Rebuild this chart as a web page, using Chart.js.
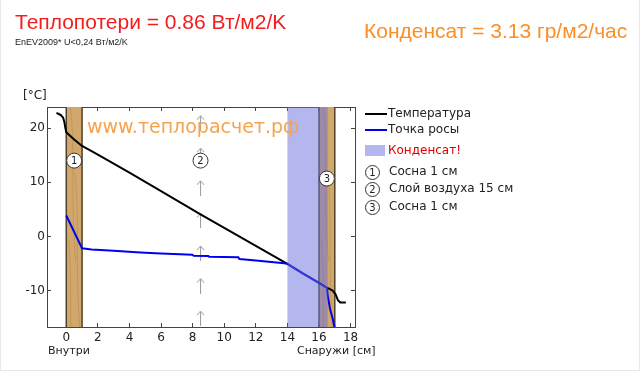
<!DOCTYPE html>
<html>
<head>
<meta charset="utf-8">
<script src="https://cdn.jsdelivr.net/npm/chart.js@4.4.1/dist/chart.umd.min.js"></script>
<style>
  body { margin: 0; background: #fff; }
  #wrap { position: relative; width: 640px; height: 371px; overflow: hidden; box-sizing: border-box;
          border-left: 1px solid #e8e8e8; border-bottom: 1px solid #e8e8e8; border-right: 1px solid #e8e8e8;
          font-family: "DejaVu Sans", sans-serif; color: #222; }
  #wrap canvas { position: absolute; left: 0; top: 0; }
  .t { position: absolute; white-space: nowrap; line-height: 1; }
  .big { font-family: "Liberation Sans", Arial, sans-serif; font-size: 21px; }
  .leg { font-size: 12px; left: 387px; }
  .sw { position: absolute; left: 364px; }
  .num { position: absolute; left: 364px; width: 13px; height: 13px; border: 1px solid #333; border-radius: 50%;
         font-size: 10px; line-height: 13px; text-align: center; background: #fff; }
</style>
</head>
<body>
<div id="wrap">
  <canvas id="chart" width="640" height="371"></canvas>

  <div class="t big" style="left:14px;top:11px;color:#f21d1d">Теплопотери = 0.86 Вт/м2/K</div>
  <div class="t" style="left:14px;top:38px;font-family:'Liberation Sans',Arial,sans-serif;font-size:9px;color:#222">EnEV2009* U&lt;0,24 Вт/м2/K</div>
  <div class="t big" style="left:363px;top:20px;color:#fb8f26">Конденсат = 3.13 гр/м2/час</div>

  <div class="t" style="left:86px;top:117px;font-size:19px;color:#f7a24c">www.теплорасчет.рф</div>

  <div class="t" style="left:22px;top:89px;font-size:12px">[°C]</div>
  <div class="t" style="left:47px;top:345px;font-size:11px">Внутри</div>
  <div class="t" style="left:296px;top:345px;font-size:11px">Снаружи [см]</div>

  <div class="sw" style="top:113px;width:22px;height:2px;background:#000"></div>
  <div class="t leg" style="top:107px">Температура</div>
  <div class="sw" style="top:129px;width:22px;height:2px;background:#0000f0"></div>
  <div class="t leg" style="top:123px">Точка росы</div>
  <div class="sw" style="top:145px;width:20px;height:11px;background:#b4b7ee"></div>
  <div class="t leg" style="top:144px;color:#e00000">Конденсат!</div>

  <div class="num" style="top:165px">1</div>
  <div class="t leg" style="top:165px;left:388px">Сосна 1 см</div>
  <div class="num" style="top:182px">2</div>
  <div class="t leg" style="top:182px;left:388px">Слой воздуха 15 см</div>
  <div class="num" style="top:200px">3</div>
  <div class="t leg" style="top:200px;left:388px">Сосна 1 см</div>
</div>

<script>
// temperature across the wall, cm / °C
const tempX = [-0.62, -0.35, -0.2, -0.12, -0.05, 0, 0.5, 1, 2, 4, 6, 8.5, 10, 12, 14, 15, 16, 16.5, 16.85, 17.05, 17.2, 17.35, 17.7];
const tempY = [22.8, 22.4, 21.9, 21.1, 19.9, 19.2, 17.9, 16.7, 15.1, 11.8, 8.4, 4.1, 1.6, -1.7, -5.0, -6.8, -8.5, -9.4, -9.9, -10.6, -11.7, -12.1, -12.1];

// dew point
const dewX = [0, 1, 1.6, 3, 4.7, 6, 8, 8.05, 9, 9.05, 10.9, 10.95, 12, 13.8, 14, 15, 16, 16.5, 16.55, 16.7, 16.87, 16.97, 17.05];
const dewY = [3.9, -2.15, -2.35, -2.6, -2.9, -3.1, -3.35, -3.5, -3.55, -3.7, -3.8, -4.1, -4.4, -4.9, -5.0, -6.8, -8.5, -9.4, -10.8, -13.3, -15.1, -16.5, -18];

const xTicks = [0, 2, 4, 6, 8, 10, 12, 14, 16, 18];
const yTicks = [-10, 0, 10, 20];

// layers (cm)
const woodFrom = [0, 16];
const woodTo = [1, 17];
const condFrom = [14];
const condTo = [16.55];

// air flow arrows and layer numbers
const flowX = 8.5;
const flowY = [21, 15, 9, 3, -3, -9, -15];
const markX = [0.5, 8.5, 16.5];
const markY = [14, 14, 10.7];
const markText = ['1', '2', '3'];

const tickFont = { family: 'DejaVu Sans', size: 12 };

function arrowImage() {
  const c = document.createElement('canvas');
  c.width = 9; c.height = 16;
  const g = c.getContext('2d');
  g.strokeStyle = '#9a9a9a';
  g.lineWidth = 1;
  g.beginPath();
  g.moveTo(4.5, 1); g.lineTo(4.5, 16);
  g.moveTo(1, 5); g.lineTo(4.5, 1); g.lineTo(8, 5);
  g.stroke();
  return c;
}

function clipArea(ctx, a) {
  ctx.beginPath();
  ctx.rect(a.left, a.top, a.right - a.left, a.bottom - a.top);
  ctx.clip();
}

const layersPlugin = {
  id: 'layers',
  beforeDatasetsDraw(chart) {
    const { ctx, chartArea: a, scales: { x } } = chart;
    ctx.save();
    clipArea(ctx, a);
    const h = a.bottom - a.top;
    for (let i = 0; i < woodFrom.length; i++) {
      const l = x.getPixelForValue(woodFrom[i]);
      const r = x.getPixelForValue(woodTo[i]);
      const w = r - l;
      ctx.fillStyle = '#d2a76c';
      ctx.fillRect(l, a.top, w, h);
      // grain
      ctx.strokeStyle = 'rgba(125,90,45,0.22)';
      ctx.lineWidth = 1;
      [[0.25, 0.6], [0.55, 0.85], [0.15, 0.4]].forEach((p, k) => {
        const y0 = a.top + h * k * 0.3;
        ctx.beginPath();
        ctx.moveTo(l + w * p[0], y0);
        ctx.bezierCurveTo(l + w * p[1], y0 + h * 0.2, l + w * p[0], y0 + h * 0.4, l + w * p[1], y0 + h * 0.7);
        ctx.stroke();
      });
      ctx.strokeStyle = '#4f4128';
      ctx.lineWidth = 1.5;
      ctx.beginPath();
      ctx.moveTo(l, a.top); ctx.lineTo(l, a.bottom);
      ctx.moveTo(r, a.top); ctx.lineTo(r, a.bottom);
      ctx.stroke();
    }
    ctx.restore();
  },
  afterDatasetsDraw(chart) {
    const { ctx, chartArea: a, scales: { x, y } } = chart;
    ctx.save();
    clipArea(ctx, a);
    for (let i = 0; i < condFrom.length; i++) {
      const l = x.getPixelForValue(condFrom[i]);
      const r = x.getPixelForValue(condTo[i]);
      ctx.fillStyle = 'rgba(105,112,222,0.5)';
      ctx.fillRect(l, a.top, r - l, a.bottom - a.top);
    }
    for (let i = 0; i < markX.length; i++) {
      const cx = x.getPixelForValue(markX[i]);
      const cy = y.getPixelForValue(markY[i]);
      ctx.beginPath();
      ctx.arc(cx, cy, 7.5, 0, Math.PI * 2);
      ctx.fillStyle = '#fff';
      ctx.fill();
      ctx.strokeStyle = '#333';
      ctx.lineWidth = 1;
      ctx.stroke();
      ctx.fillStyle = '#222';
      ctx.font = '10px "DejaVu Sans"';
      ctx.textAlign = 'center';
      ctx.textBaseline = 'middle';
      ctx.fillText(markText[i], cx, cy + 0.5);
    }
    ctx.restore();
  }
};

function axis(pos, list, showLabels, size) {
  const horizontal = pos === 'top' || pos === 'bottom';
  return {
    type: 'linear',
    position: pos,
    min: horizontal ? -1.22 : -16.63,
    max: horizontal ? 18.28 : 23.87,
    afterBuildTicks: s => { s.ticks = list.map(v => ({ value: v })); },
    afterFit: s => { if (horizontal) s.height = size; else s.width = size; },
    grid: { drawOnChartArea: false, drawTicks: true, tickLength: -4, color: '#444', lineWidth: 1 },
    border: { display: true, color: '#444', width: 1 },
    ticks: { display: showLabels, font: tickFont, color: '#222', padding: horizontal ? 8 : 6, maxRotation: 0 }
  };
}

new Chart(document.getElementById('chart'), {
  type: 'line',
  data: {
    datasets: [
      {
        label: 'Точка росы',
        data: dewX.map((v, i) => ({ x: v, y: dewY[i] })),
        borderColor: '#0000f0', borderWidth: 2, pointRadius: 0, tension: 0,
        borderJoinStyle: 'round', order: 0
      },
      {
        label: 'Температура',
        data: tempX.map((v, i) => ({ x: v, y: tempY[i] })),
        borderColor: '#000', borderWidth: 2, pointRadius: 0, tension: 0,
        borderJoinStyle: 'round', order: 1
      },
      {
        type: 'scatter',
        label: 'flow',
        data: flowY.map(v => ({ x: flowX, y: v })),
        pointStyle: arrowImage(), pointRadius: 8, order: 2
      }
    ]
  },
  options: {
    responsive: false,
    animation: false,
    devicePixelRatio: 1,
    layout: { padding: { left: 0, right: 286, top: 107, bottom: 0 } },
    plugins: { legend: { display: false }, tooltip: { enabled: false } },
    scales: {
      x: axis('bottom', xTicks, true, 44),
      x2: axis('top', xTicks, false, 0),
      y: axis('left', yTicks, true, 46),
      y2: axis('right', yTicks, false, 0)
    }
  },
  plugins: [layersPlugin]
});
</script>
</body>
</html>
